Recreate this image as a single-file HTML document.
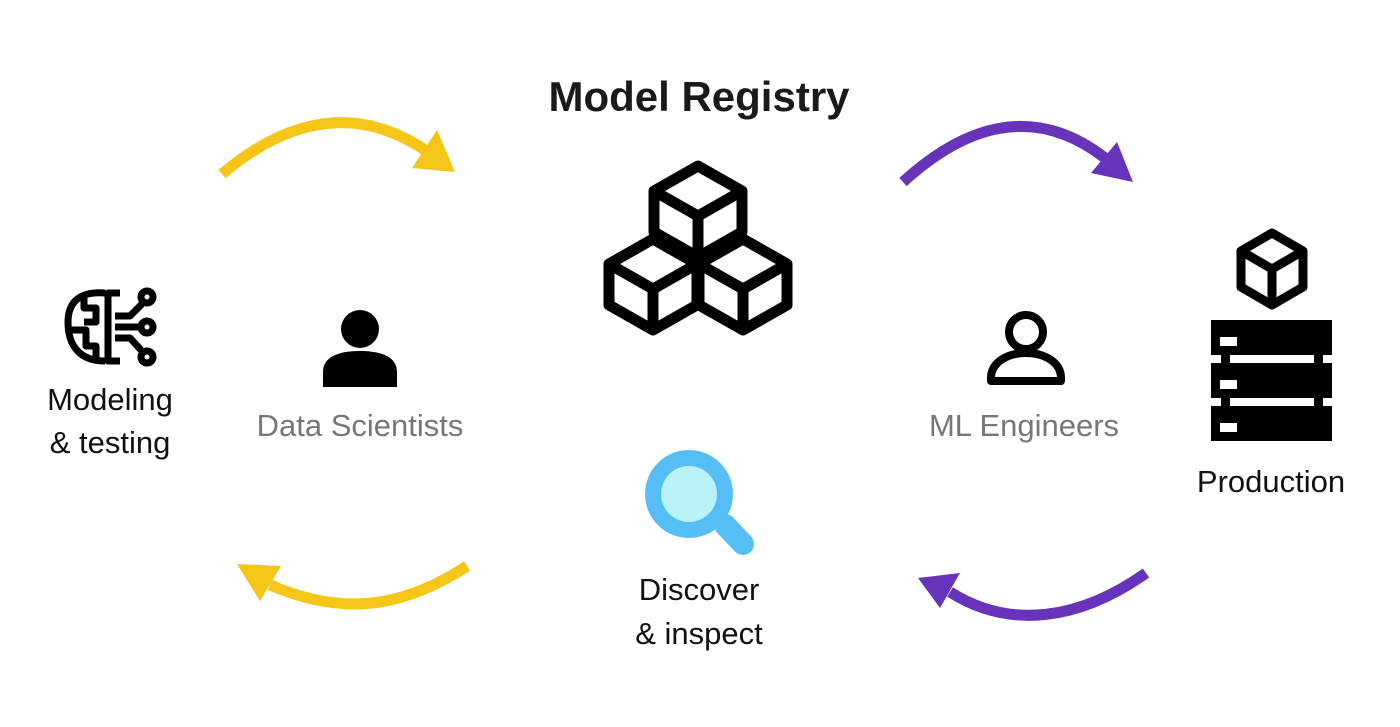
<!DOCTYPE html>
<html><head><meta charset="utf-8"><style>
html,body{margin:0;padding:0;background:#fff}
svg{display:block}
text{font-family:"Liberation Sans",sans-serif}
</style></head><body>
<svg width="1400" height="727" viewBox="0 0 1400 727" xmlns="http://www.w3.org/2000/svg">
<rect width="1400" height="727" fill="#fff"/>
<text x="699" y="111" font-size="42" font-weight="bold" text-anchor="middle" fill="#1a1a1a">Model Registry</text>

<!-- arrows -->
<g fill="none" stroke-width="11">
<path d="M222,174 C280,125 350,100 425,150" stroke="#f5c518"/>
<path d="M467,566 C400,610 340,615 270,585" stroke="#f5c518"/>
<path d="M903,182 C960,130 1030,100 1105,158" stroke="#6633bb"/>
<path d="M1146,573 C1080,620 1010,630 950,592" stroke="#6633bb"/>
</g>
<polygon points="455,172 412,168 437,130" fill="#f5c518"/>
<polygon points="237,564 281,566 260,601" fill="#f5c518"/>
<polygon points="1133,182 1091,173 1117,142" fill="#6633bb"/>
<polygon points="918,578 960,573 940,608" fill="#6633bb"/>

<!-- cubes -->
<g fill="#fff" stroke="#000" stroke-width="11" stroke-linejoin="round">
<path d="M698,166 L742,191 L742,232 L698,257 L654,232 L654,191 Z M654,191 L698,216 L742,191 M698,216 L698,257"/>
<path d="M653,239 L697,264 L697,305 L653,330 L609,305 L609,264 Z M609,264 L653,289 L697,264 M653,289 L653,330"/>
<path d="M743,239 L787,264 L787,305 L743,330 L699,305 L699,264 Z M699,264 L743,289 L787,264 M743,289 L743,330"/>
</g>

<!-- data scientist -->
<circle cx="360" cy="329" r="19" fill="#000"/>
<path d="M323,387 L323,372 C323,357 338,351 360,351 C382,351 397,357 397,372 L397,387 Z" fill="#000"/>
<text x="360" y="436" font-size="31" text-anchor="middle" fill="#777">Data Scientists</text>

<!-- ML engineer -->
<circle cx="1026" cy="332" r="17" fill="none" stroke="#000" stroke-width="8"/>
<path d="M991,381 L991,378 C991,362 1008,353 1026,353 C1044,353 1061,362 1061,378 L1061,381 Z" fill="none" stroke="#000" stroke-width="8" stroke-linejoin="round"/>
<text x="1024" y="436" font-size="31" text-anchor="middle" fill="#777">ML Engineers</text>

<!-- brain -->
<g fill="none" stroke="#000" stroke-width="7" stroke-linecap="butt" stroke-linejoin="round">
<path d="M105,293 C80,291 68,302 68,322 C68,348 82,361 105,361"/>
<path d="M120,293 L108,293 L108,361 L120,361"/>
<path d="M84,297 L84,308 L96,308 L96,322 L84,322"/>
<path d="M70,330 L86,330 L86,346 L96,346 L96,358"/>
<path d="M115,316 L130,316 L142,304"/>
<path d="M115,327 L140,327"/>
<path d="M115,338 L130,338 L141,350"/>
<circle cx="147" cy="297" r="6"/>
<circle cx="147" cy="327" r="6"/>
<circle cx="147" cy="357" r="6"/>
</g>
<text x="110" y="410" font-size="31" text-anchor="middle" fill="#111">Modeling</text>
<text x="110" y="453" font-size="31" text-anchor="middle" fill="#111">&amp; testing</text>

<!-- production -->
<path d="M1272,233 L1303,251 L1303,287 L1272,305 L1241,287 L1241,251 Z M1241,251 L1272,269 L1303,251 M1272,269 L1272,305" fill="#fff" stroke="#000" stroke-width="9" stroke-linejoin="round"/>
<rect x="1211" y="320" width="121" height="121" fill="#000"/>
<rect x="1230" y="355" width="84" height="8" fill="#fff"/>
<rect x="1230" y="398" width="84" height="8" fill="#fff"/>
<rect x="1211" y="355" width="10" height="8" fill="#fff"/>
<rect x="1211" y="398" width="10" height="8" fill="#fff"/>
<rect x="1323" y="355" width="9" height="8" fill="#fff"/>
<rect x="1323" y="398" width="9" height="8" fill="#fff"/>
<rect x="1220" y="337" width="17" height="9" fill="#fff"/>
<rect x="1220" y="380" width="17" height="9" fill="#fff"/>
<rect x="1220" y="423" width="17" height="9" fill="#fff"/>
<text x="1271" y="492" font-size="31" text-anchor="middle" fill="#111">Production</text>

<!-- magnifier -->
<line x1="725" y1="525" x2="743" y2="544" stroke="#55bff5" stroke-width="22" stroke-linecap="round"/>
<circle cx="689" cy="494" r="44" fill="#55bff5"/>
<circle cx="689" cy="494" r="28" fill="#b9f2f7"/>
<text x="699" y="600" font-size="31" text-anchor="middle" fill="#111">Discover</text>
<text x="699" y="644" font-size="31" text-anchor="middle" fill="#111">&amp; inspect</text>
</svg>
</body></html>
